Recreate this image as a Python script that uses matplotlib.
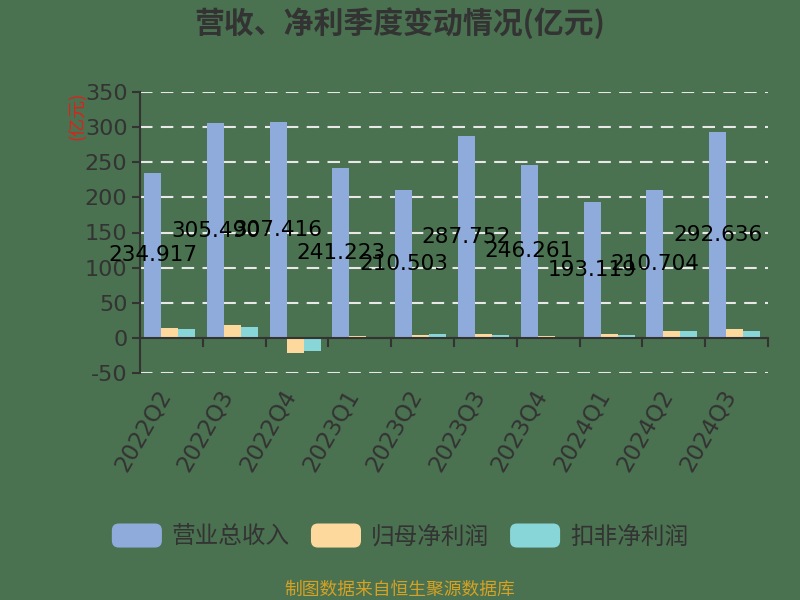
import matplotlib
matplotlib.use("Agg")
import matplotlib.pyplot as plt
import numpy as np
from matplotlib.patches import FancyBboxPatch, Patch
from matplotlib.legend_handler import HandlerPatch
from matplotlib.transforms import ScaledTranslation

plt.rcParams['font.family'] = ['Noto Sans CJK SC', 'DejaVu Sans']

categories = ["2022Q2", "2022Q3", "2022Q4", "2023Q1", "2023Q2",
              "2023Q3", "2023Q4", "2024Q1", "2024Q2", "2024Q3"]
series_names = ["营业总收入", "归母净利润", "扣非净利润"]
revenue = [234.917, 305.490, 307.416, 241.223, 210.503,
           287.752, 246.261, 193.119, 210.704, 292.636]
net_profit = [13.4, 18.5, -21.8, 2.4, 4.3, 5.7, 2.6, 5.7, 9.5, 12.4]
deducted_profit = [12.4, 15.7, -18.6, 0.3, 5.7, 3.8, 0.3, 3.8, 9.5, 9.5]
yticks = [-50, 0, 50, 100, 150, 200, 250, 300, 350]

bg = '#4a7150'
colors = ['#8fabdc', '#fdd99d', '#89d6d9']
text_dark = '#333333'

fig = plt.figure(figsize=(8, 6), dpi=100, facecolor=bg)
ax = fig.add_axes([140/800, 1-373/600, (768-140)/800, (373-92)/600])
ax.set_facecolor(bg)

x = np.arange(len(categories))
w = 0.27
offsets = [-0.30, -0.03, 0.24]
for vals, off, c, name in zip([revenue, net_profit, deducted_profit], offsets, colors, series_names):
    ax.bar(x + off, vals, width=w, color=c, label=name, zorder=3)

for xi, v in zip(x, revenue):
    ax.text(xi + offsets[0], v / 2, f"{v:.3f}", ha='center', va='center',
            fontsize=15.5, color='black', family='DejaVu Sans', zorder=5)

ax.set_xlim(-0.5, len(categories) - 0.5)
ax.set_ylim(-50, 350)
ax.set_yticks(yticks)
ax.set_yticklabels([str(t) for t in yticks], fontsize=16, color=text_dark, family='DejaVu Sans')
for t in yticks:
    if t != 0:
        ax.axhline(t, color='#e8e8e8', lw=1.5, ls=(0, (6, 4)), zorder=1)

for s in ['top', 'right', 'bottom']:
    ax.spines[s].set_visible(False)
ax.spines['left'].set_color(text_dark)
ax.spines['left'].set_linewidth(1.5)
ax.axhline(0, color=text_dark, lw=1.5, zorder=4)
ax.tick_params(axis='y', length=6, width=1.5, color=text_dark, pad=3)

ax.set_xticks(x)
ax.set_xticklabels(categories, rotation=60, ha='right', va='top', rotation_mode='anchor',
                   fontsize=16.5, color=text_dark, family='DejaVu Sans')
ax.tick_params(axis='x', length=0, pad=9)
shift = ScaledTranslation(-16/100, 0, fig.dpi_scale_trans)
for lbl in ax.get_xticklabels():
    lbl.set_transform(lbl.get_transform() + shift)
for b in np.arange(0.5, len(categories), 1.0):
    ax.plot([b, b], [0, -11], color=text_dark, lw=1.5, zorder=4, clip_on=False)

fig.text(400/800, 1-23/600, "营收、净利季度变动情况(亿元)", ha='center', va='center',
         fontsize=21.5, fontweight='bold', color=text_dark)
fig.text(77/800, 1-116/600, "(亿元)", ha='center', va='center', rotation=90,
         fontsize=13, color='#e0201b')


class RoundHandler(HandlerPatch):
    def create_artists(self, legend, orig_handle, xdescent, ydescent, width, height, fontsize, trans):
        p = FancyBboxPatch((-xdescent, -ydescent), width, height,
                           boxstyle="round,pad=0,rounding_size=5",
                           facecolor=orig_handle.get_facecolor(), edgecolor='none',
                           transform=trans)
        return [p]


handles = [Patch(facecolor=c, label=n) for c, n in zip(colors, series_names)]
leg = fig.legend(handles=handles, loc='center', bbox_to_anchor=(400/800, 1-536/600), ncol=3,
                 frameon=False, handlelength=2.12, handleheight=1.19,
                 handletextpad=0.42, columnspacing=0.89,
                 prop={'size': 17},
                 handler_map={Patch: RoundHandler()})
for t in leg.get_texts():
    t.set_color(text_dark)

fig.text(400/800, 1-590/600, "制图数据来自恒生聚源数据库", ha='center', va='center',
         fontsize=12.8, color='#d6a224')

fig.savefig("out.png", dpi=100, facecolor=bg)
